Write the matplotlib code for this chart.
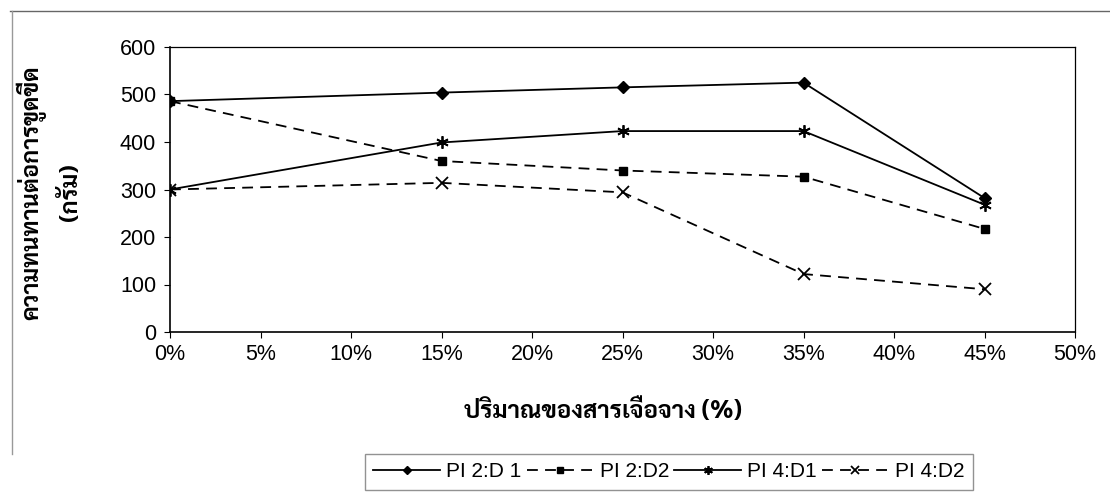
import matplotlib
matplotlib.use("Agg")
import matplotlib.pyplot as plt
from matplotlib import font_manager
from matplotlib.ticker import PercentFormatter
from matplotlib.lines import Line2D

# ปริมาณสารเจือจาง (%) กับความทนทานต่อการขูดขีด (กรัม)
conc = [0, 15, 25, 35, 45]
pi2_d1 = [486, 504, 515, 525, 282]
pi2_d2 = [486, 360, 340, 327, 217]
pi4_d1 = [300, 399, 423, 423, 268]
pi4_d2 = [300, 314, 294, 122, 90]
labels = ["PI 2:D 1", "PI 2:D2", "PI 4:D1", "PI 4:D2"]

# ฟอนต์ไทยแบบมีหัว
have = set(f.name for f in font_manager.fontManager.ttflist)
thai = next((n for n in ["Sarabun", "Noto Sans Thai Looped", "Loma", "Tlwg Typo"] if n in have), None)
fam = [thai, "Liberation Sans", "DejaVu Sans"] if thai else ["Liberation Sans", "DejaVu Sans"]
plt.rcParams["font.family"] = ["Liberation Sans", "DejaVu Sans"]

fig = plt.figure(figsize=(11.10, 4.93), dpi=100)
ax = fig.add_axes([170 / 1110, 1 - 332 / 493, 905 / 1110, 285 / 493])

ax.plot(conc, pi2_d1, "k-", marker="D", ms=6, lw=1.3, label=labels[0])
ax.plot(conc, pi2_d2, "k--", marker="s", ms=6, lw=1.3, dashes=(6, 4), label=labels[1])
ax.plot(conc, pi4_d1, "k-", marker=(6, 2, 0), ms=9, mew=1.3, lw=1.3, label=labels[2])
ax.plot(conc, pi4_d2, "k--", marker="x", ms=8, mew=1.3, lw=1.3, dashes=(6, 4), label=labels[3])

ax.set_xlim(0, 50)
ax.set_ylim(0, 600)
ax.set_xticks(range(0, 51, 5))
ax.set_yticks(range(0, 601, 100))
ax.xaxis.set_major_formatter(PercentFormatter(decimals=0))
ax.tick_params(labelsize=15.5, length=4, direction="out", pad=5)
ax.tick_params(axis="y", pad=6)
for s in ax.spines.values():
    s.set_linewidth(1.2)
ax.spines["right"].set_linewidth(0.9)
ax.spines["top"].set_linewidth(0.9)

ax.set_ylabel("ความทนทานต่อการขูดขีด\n(กรัม)", family=fam, fontsize=17,
              fontweight="bold", linespacing=1.7)
ax.yaxis.set_label_coords(-0.097, 0.49)
ax.set_xlabel("ปริมาณของสารเจือจาง (%)", family=fam, fontsize=17.5,
              fontweight="bold")
ax.xaxis.set_label_coords(0.478, -0.235)

fig.legend(*ax.get_legend_handles_labels(), loc="upper center",
           bbox_to_anchor=(669 / 1110, 1 - 454 / 493), ncol=4, frameon=True,
           fancybox=False, edgecolor="#777777", fontsize=15, handlelength=3.2,
           markerscale=0.7, columnspacing=0.25, handletextpad=0.3, borderpad=0.4,
           borderaxespad=0)

# กรอบด้านนอก
fig.add_artist(Line2D([10 / 1110, 1], [1 - 11 / 493] * 2, color="#666666", lw=1))
fig.add_artist(Line2D([12 / 1110] * 2, [1 - 11 / 493, 0.08], color="#999999", lw=1))

fig.savefig("out.png", dpi=100)
